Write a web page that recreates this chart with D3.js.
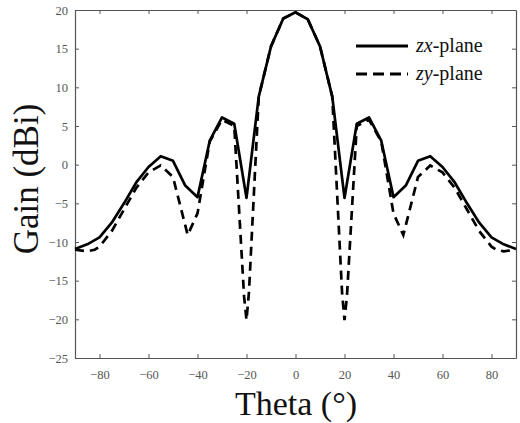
<!DOCTYPE html>
<html>
<head>
<meta charset="utf-8">
<script src="https://cdn.jsdelivr.net/npm/d3@7"></script>
<style>
html,body{margin:0;padding:0;background:#fff;}
svg{display:block;}
svg text{font-family:"Liberation Serif","Times New Roman",serif;}
</style>
</head>
<body>
<svg id="chart" width="520" height="423"></svg>
<script>
// ---- data ----
const zxTheta = [-90,-85,-80,-75,-70,-65,-60,-55,-50,-45,-40,-35,-30,-25,-20,-15,-10,-5,0,5,10,15,20,25,30,35,40,45,50,55,60,65,70,75,80,85,90];
const zxGain  = [-10.9,-10.3,-9.4,-7.5,-5.0,-2.3,-0.3,1.1,0.5,-2.7,-4.2,3.1,6.1,5.3,-4.3,8.8,15.3,18.9,19.7,18.8,15.3,8.8,-4.3,5.3,6.1,3.1,-4.2,-2.7,0.5,1.1,-0.3,-2.3,-5.0,-7.5,-9.4,-10.3,-10.9];
const zyTheta = [-90,-85,-82,-80,-75,-70,-65,-60,-55,-50,-44,-40,-35,-30,-25,-21,-20,-19,-15,-10,-5,0,5,10,15,19,20,21,25,30,35,40,44,50,55,60,65,70,75,80,82,85,90];
const zyGain  = [-11.0,-11.2,-11.0,-10.6,-8.6,-5.8,-3.0,-1.0,-0.1,-1.6,-9.1,-6.3,3.0,5.8,5.0,-17.0,-20.1,-16.5,8.8,15.3,18.9,19.7,18.8,15.3,8.8,-16.5,-20.1,-17.0,5.0,5.8,3.0,-6.3,-9.1,-1.6,-0.1,-1.0,-3.0,-5.8,-8.6,-10.6,-11.0,-11.2,-11.0];
const xTicks = [-80,-60,-40,-20,0,20,40,60,80];
const yTicks = [-25,-20,-15,-10,-5,0,5,10,15,20];
const seriesNames = ["zx", "zy"];
const xTitle = "Theta (°)";
const yTitle = "Gain (dBi)";

// ---- layout ----
const L = 75, R = 516, T = 10, B = 358;
const svg = d3.select("#chart");
const x = d3.scaleLinear().domain([-90, 90]).range([L, R]);
const y = d3.scaleLinear().domain([-25, 20]).range([B, T]);

const axisColor = "#555";
const serif = "'Liberation Serif', 'Times New Roman', serif";

const gx = svg.append("g").attr("transform", `translate(0,${B})`)
  .call(d3.axisBottom(x).tickValues(xTicks).tickSizeInner(-4).tickSizeOuter(0).tickPadding(12));
const gy = svg.append("g").attr("transform", `translate(${L},0)`)
  .call(d3.axisLeft(y).tickValues(yTicks).tickSizeInner(-4).tickSizeOuter(0).tickPadding(7));
const gt = svg.append("g").attr("transform", `translate(0,${T})`)
  .call(d3.axisTop(x).tickValues(xTicks).tickSizeInner(-4).tickSizeOuter(0).tickFormat(""));
const gr = svg.append("g").attr("transform", `translate(${R},0)`)
  .call(d3.axisRight(y).tickValues(yTicks).tickSizeInner(-4).tickSizeOuter(0).tickFormat(""));

[gx, gy, gt, gr].forEach(g => {
  g.attr("font-family", serif);
  g.selectAll(".domain").attr("stroke", axisColor).attr("stroke-width", 1.2);
  g.selectAll(".tick line").attr("stroke", axisColor).attr("stroke-width", 1);
  g.selectAll(".tick text").attr("fill", "#555").attr("font-family", serif).attr("font-size", 12.5);
});

// lines
const line = d3.line().x(d => x(d[0])).y(d => y(d[1]));
const zxData = zxTheta.map((t, i) => [t, zxGain[i]]);
const zyData = zyTheta.map((t, i) => [t, zyGain[i]]);

svg.append("path").datum(zyData).attr("d", line)
  .attr("fill", "none").attr("stroke", "#000").attr("stroke-width", 2.7)
  .attr("stroke-dasharray", "9,6");
svg.append("path").datum(zxData).attr("d", line)
  .attr("fill", "none").attr("stroke", "#000").attr("stroke-width", 2.7)
  .attr("stroke-linejoin", "round");

// legend
const leg = [{name: seriesNames[0], dash: null, y: 46}, {name: seriesNames[1], dash: "11,6", y: 74}];
leg.forEach(l => {
  svg.append("line").attr("x1", 356).attr("x2", 408).attr("y1", l.y).attr("y2", l.y)
    .attr("stroke", "#000").attr("stroke-width", 3)
    .attr("stroke-dasharray", l.dash);
  const t = svg.append("text").attr("x", 416).attr("y", l.y + 6)
    .attr("font-family", serif).attr("font-size", 20).attr("fill", "#111");
  t.append("tspan").attr("font-style", "italic").text(l.name);
  t.append("tspan").text("-plane");
});

// axis titles
svg.append("text").attr("x", 296).attr("y", 415).attr("text-anchor", "middle")
  .attr("font-family", serif).attr("font-size", 34).attr("fill", "#111").text(xTitle);
svg.append("text").attr("transform", `translate(38,${(T + B) / 2 - 5}) rotate(-90)`)
  .attr("text-anchor", "middle")
  .attr("font-family", serif).attr("font-size", 35).attr("fill", "#111").text(yTitle);
</script>
</body>
</html>
